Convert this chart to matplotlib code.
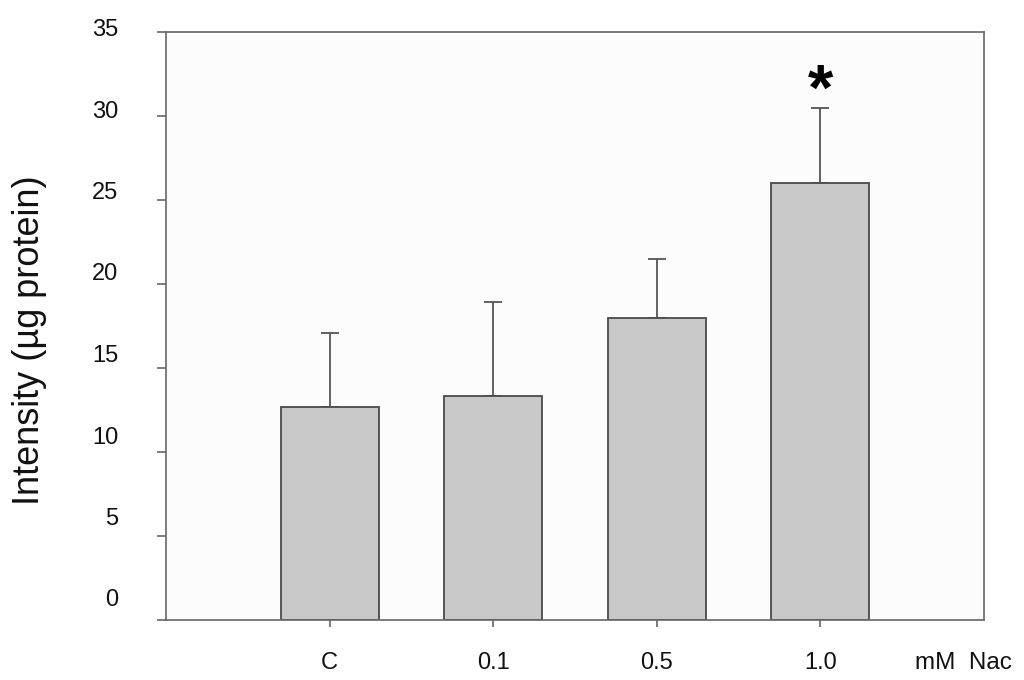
import matplotlib
matplotlib.use("Agg")
import matplotlib.pyplot as plt
from matplotlib.transforms import ScaledTranslation

categories = ["C", "0.1", "0.5", "1.0"]
means = [12.7, 13.35, 18.0, 26.0]
errors = [4.4, 5.55, 3.5, 4.5]
yticks = [0, 5, 10, 15, 20, 25, 30, 35]
significant = [False, False, False, True]

plt.rcParams['font.family'] = ['Liberation Sans', 'DejaVu Sans']

fig = plt.figure(figsize=(10.24, 6.8), dpi=100)
fig.patch.set_facecolor('white')
ax = fig.add_axes([166/1024, 1-620/680, (984-166)/1024, (620-32)/680])
ax.set_facecolor('#fcfcfc')

edge = '#4a4a4a'
x = list(range(len(categories)))
ax.bar(x, means, width=0.6, color='#c8c8c8', edgecolor=edge, linewidth=1.3, zorder=2)
ax.errorbar(x, means, yerr=[[0]*len(errors), errors], fmt='none', ecolor='#555555',
            elinewidth=1.3, capsize=6.5, capthick=1.3, zorder=1)

for xi, m, e, s in zip(x, means, errors, significant):
    if s:
        ax.annotate('*', xy=(xi, m + e), xytext=(0, 11), textcoords='offset points',
                    ha='center', va='center', fontsize=47, fontweight='bold', color='black')

ax.set_xlim(-1, 4)
ax.set_ylim(0, 35)
ax.set_xticks(x)
ax.set_xticklabels(categories)
ax.set_yticks(yticks)
ax.set_yticklabels([str(v) for v in yticks])

for sp in ax.spines.values():
    sp.set_color('#666666')
    sp.set_linewidth(1.2)

ax.tick_params(axis='y', direction='out', length=6.5, width=1.2, color='#666666',
               pad=28, labelsize=17, labelcolor='#111111')
ax.tick_params(axis='x', direction='out', length=5, width=1.2, color='#666666',
               pad=18, labelsize=17, labelcolor='#111111')

# labels in the original sit progressively higher than their ticks
for lab, v in zip(ax.get_yticklabels(), yticks):
    dy_px = 4.5 + (35 - v) / 35 * 17.5
    lab.set_transform(lab.get_transform() + ScaledTranslation(0, dy_px / 100, fig.dpi_scale_trans))

ax.set_ylabel('Intensity (µg protein)', fontsize=26, color='#111111')
ax.yaxis.set_label_coords((47 - 166) / 818, (620 - 340) / 588)

fig.text(963/1024, 1 - 663/680, 'mM  Nac', ha='center', va='center', fontsize=17.5, color='#111111')

fig.savefig('out.png', dpi=100, facecolor='white')
